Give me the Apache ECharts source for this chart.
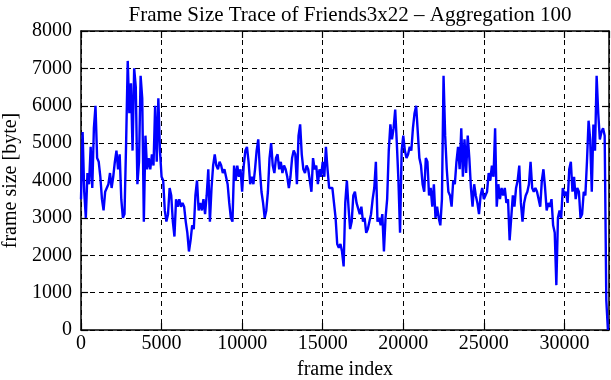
<!DOCTYPE html>
<html>
<head>
<meta charset="utf-8">
<script src="https://cdn.jsdelivr.net/npm/echarts@6/dist/echarts.min.js"></script>
<style>
  html, body { margin: 0; padding: 0; background: #fff; }
  #chart { width: 611px; height: 380px; }
</style>
</head>
<body>
<div id="chart"></div>
<script>
// frame size [byte], one value per 100 aggregated frames
const aggregation = 100
const frameSizes = [
  3500, 5300, 3700, 3000, 4200, 3900, 4900, 3800, 5400, 6000,
  4600, 4500, 4100, 3500, 3200, 3700, 3800, 3900, 4200, 3800,
  4100, 4500, 4800, 4300, 4700, 3500, 3000, 3100, 5000, 7200,
  5800, 6600, 4800, 7000, 6500, 3900, 4500, 6800, 6200, 2900,
  5200, 4300, 4600, 4300, 4700, 4400, 6000, 4500, 6200, 4800,
  4100, 4000, 3200, 2900, 3100, 3800, 3600, 2900, 2500, 3500,
  3300, 3500, 3300, 3400, 3300, 2900, 2600, 2100, 2400, 2800,
  2700, 3600, 4000, 3200, 3400, 3200, 3500, 3100, 3600, 4300,
  2900, 3800, 4400, 4700, 4400, 4300, 4500, 4400, 4200, 4300,
  4100, 3900, 3400, 3000, 2900, 4400, 4000, 4400, 4100, 4300,
  3700, 4400, 4800, 4900, 4500, 3900, 4100, 3900, 4300, 4800,
  5100, 4300, 3700, 3400, 3000, 3200, 3700, 4600, 5000, 4400,
  4200, 4600, 4700, 4300, 4500, 4200, 4400, 4300, 4100, 3800,
  4100, 4600, 4800, 4700, 3900, 5200, 5500, 4700, 4300, 4200,
  4400, 4300, 4000, 3700, 4600, 4300, 4400, 3900, 4300, 4100,
  4500, 4100, 4900, 4300, 3800, 3800, 3800, 3400, 3000, 2300,
  2200, 2300, 2100, 1700, 3400, 4000, 3300, 2700, 2900, 3600,
  3700, 3400, 3400, 3100, 3300, 2900, 3000, 2600, 2700, 2900,
  3100, 3500, 3800, 4500, 2900, 3000, 2800, 3100, 2100, 3000,
  3500, 4800, 5500, 5100, 5400, 5900, 5000, 4000, 2600, 4800,
  5200, 4800, 4600, 4700, 4900, 4800, 5400, 5800, 6000, 5300,
  4600, 4400, 3900, 3700, 4600, 4500, 3600, 3800, 3300, 3900,
  3000, 3300, 3000, 2800, 3500, 6800, 5200, 4300, 3700, 3600,
  3300, 4000, 3900, 4500, 4900, 4300, 5400, 4100, 5100, 4200,
  5200, 4600, 3800, 3300, 3900, 3600, 3400, 3100, 3600, 3800,
  3500, 3600, 3700, 4200, 4000, 4400, 4100, 5400, 3300, 3900,
  3500, 3800, 3600, 3800, 3400, 3500, 2400, 3000, 3600, 3300,
  3800, 4000, 4400, 3400, 2900, 3400, 3600, 3700, 3900, 4500,
  3800, 3700, 3800, 3700, 3500, 3300, 4000, 4300, 3800, 3200,
  3400, 3300, 3500, 2800, 2600, 1200, 3000, 3200, 3000, 3800,
  3600, 3700, 3400, 4300, 4500, 3700, 4100, 3500, 3800, 3700,
  3000, 3100, 3700, 3600, 4500, 5600, 5100, 3700, 5500, 4800,
  6800, 5800, 5100, 5300, 5400, 5200, 800, 0
]
const xMax = 32768
const yMax = 8000

const font = '"Liberation Serif", "DejaVu Serif", serif'
const points = frameSizes.map((v, i) => [i * aggregation, v])

const chart = echarts.init(document.getElementById('chart'))

const gridLine = { show: true, lineStyle: { color: '#000', width: 1, type: [5, 4] } }
const frame = { show: true, onZero: false, lineStyle: { color: '#000', width: 1.5 } }
const tick = { show: true, inside: true, length: 7, lineStyle: { color: '#000', width: 1.2 } }
const plain = (v) => String(v)

chart.setOption({
  animation: false,
  title: {
    text: 'Frame Size Trace of Friends3x22 – Aggregation 100',
    left: 345, top: 0, textAlign: 'center',
    textStyle: { fontFamily: font, fontSize: 21, fontWeight: 'normal', color: '#000' }
  },
  grid: { left: 81, right: 2, top: 31, bottom: 50, containLabel: false, outerBoundsMode: 'none' },
  xAxis: [
    {
      type: 'value', min: 0, max: xMax, interval: 5000,
      name: 'frame index', nameLocation: 'middle', nameGap: 30,
      nameTextStyle: { fontFamily: font, fontSize: 20, color: '#000' },
      axisLine: frame, axisTick: tick, splitLine: gridLine,
      axisLabel: { fontFamily: font, fontSize: 20, color: '#000', margin: 4, showMaxLabel: false, formatter: plain }
    },
    {
      type: 'value', position: 'top', min: 0, max: xMax, interval: 5000,
      axisLine: frame, axisTick: tick, splitLine: { show: false }, axisLabel: { show: false }
    }
  ],
  yAxis: [
    {
      type: 'value', min: 0, max: yMax, interval: 1000,
      name: 'frame size [byte]', nameLocation: 'middle', nameGap: 60,
      nameTextStyle: { fontFamily: font, fontSize: 20, color: '#000' },
      axisLine: frame, axisTick: tick, splitLine: gridLine,
      axisLabel: { fontFamily: font, fontSize: 20, color: '#000', margin: 9, formatter: plain }
    },
    {
      type: 'value', position: 'right', min: 0, max: yMax, interval: 1000,
      axisLine: frame, axisTick: tick, splitLine: { show: false }, axisLabel: { show: false }
    }
  ],
  series: [{
    type: 'line', data: points, showSymbol: false,
    lineStyle: { color: '#0000ff', width: 2.4 }
  }]
})
</script>
</body>
</html>
